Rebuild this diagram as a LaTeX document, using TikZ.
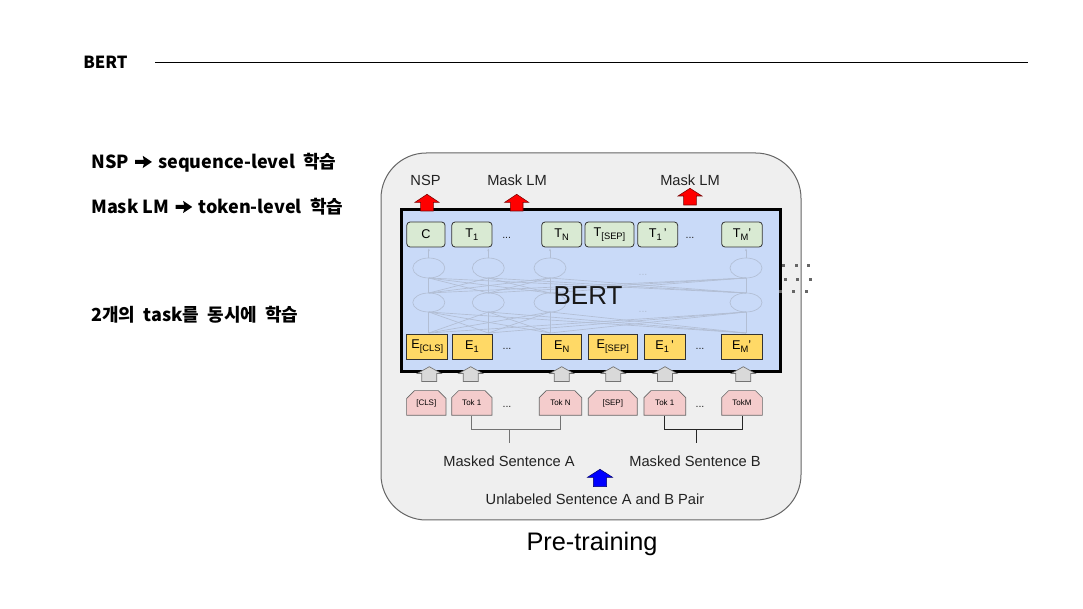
\documentclass[tikz,border=0pt]{standalone}
\usepackage{fontspec}
\setmainfont{Liberation Sans}
\newfontfamily\krfont{Noto Sans CJK KR}
\usetikzlibrary{shapes.misc,arrows.meta}
\definecolor{outerfill}{HTML}{EFEFEF}
\definecolor{outerline}{HTML}{666666}
\definecolor{bertblue}{HTML}{C9DAF8}
\definecolor{tgreen}{HTML}{D9EAD3}
\definecolor{eyellow}{HTML}{FFD966}
\definecolor{tokpink}{HTML}{F4CCCC}
\definecolor{faint}{RGB}{178,190,212}
\definecolor{darkred}{RGB}{120,0,0}
\definecolor{darkblue}{RGB}{0,0,110}
\definecolor{txt}{HTML}{222222}
\newcommand\blkarrow[7]{%
  \draw[#1] (#2,#3) -- ({#2+#6},#4) -- ({#2+#7},#4) -- ({#2+#7},#5) -- ({#2-#7},#5) -- ({#2-#7},#4) -- ({#2-#6},#4) -- cycle;}
\newcommand\lowsub[1]{\raisebox{-2.6pt}{\fontsize{7}{7}\selectfont #1}}
\newcommand\hvyarrow{\hspace{0.12em}\tikz[x=1em,y=1em,baseline=0pt]\fill[black] (0.02,0.27)--(0.5,0.27)--(0.44,0.04)--(0.95,0.38)--(0.44,0.72)--(0.5,0.49)--(0.02,0.49)--cycle;\hspace{0.12em}}
\tikzset{
  lefttext/.style={anchor=west,inner sep=0,font=\krfont\bfseries\fontsize{13.5}{15}\selectfont},
  tbox/.style={draw=black!80,fill=tgreen,rounded corners=2.5pt,minimum height=18.75pt,inner sep=0,line width=0.6pt,font=\fontsize{9.5}{9.5}\selectfont},
  ebox/.style={draw=black!80,fill=eyellow,minimum height=19pt,inner sep=0,line width=0.6pt,font=\fontsize{9.5}{9.5}\selectfont},
  tokbox/.style={chamfered rectangle,chamfered rectangle corners={north east,north west},chamfered rectangle xsep=3pt,chamfered rectangle ysep=3pt,draw=black!60,fill=tokpink,minimum height=18.5pt,inner sep=0,line width=0.5pt,font=\fontsize{6}{6}\selectfont},
  dots/.style={inner sep=0,font=\fontsize{8}{8}\selectfont,text=txt},
  lbl/.style={inner sep=0,font=\fontsize{11}{11}\selectfont,text=txt},
  faintline/.style={draw=faint,line width=0.5pt},
  bracket/.style={draw=black!55,line width=0.6pt}
}
\begin{document}
\begin{tikzpicture}[x=0.75pt,y=-0.75pt]
\useasboundingbox (0,0) rectangle (1083,609);
\fill[white] (0,0) rectangle (1083,609);
% title
\node[anchor=west,inner sep=0,font=\krfont\bfseries\fontsize{12.5}{14}\selectfont] (title) at (83,62) {BERT};
\coordinate (rl) at (155,63);
\coordinate (rr) at (1028,63);
\draw[line width=0.75pt] (rl) -- (rr);
% left texts
\node[lefttext] (l1) at (91,163) {NSP \hvyarrow{} sequence-level \ 학습};
\node[lefttext] (l2) at (91,207) {Mask LM \hvyarrow{} token-level \ 학습};
\node[lefttext] (l3) at (91,315) {2개의 \ task를 \ 동시에 \ 학습};
% outer box
\node[draw=outerline,fill=outerfill,rounded corners=34pt,minimum width=315pt,minimum height=275.25pt,line width=0.75pt] (outer) at (591,336.5) {};
% inner box
\node[draw=black,fill=bertblue,minimum width=284.25pt,minimum height=121.5pt,line width=2.25pt] (bert) at (590.5,291) {};
% faint transformer layers
\foreach \i/\x in {1/428.8,2/488.3,3/550,4/746}{
  \draw[faintline] (\x,268) ellipse (16 and 10);
  \draw[faintline] (\x,302.5) ellipse (16 and 9.5);
  \draw[faintline,-{Stealth[length=2pt]}] (\x,258) -- (\x,248.5);
}
\foreach \x in {428.8,488.3,550,746}{
  \foreach \y in {428.8,488.3,550,746}{
    \draw[faintline] (\x,293) -- (\y,278);
    \draw[faintline] (\x,333) -- (\y,312);
  }
}
\node[dots,text=faint] (fd1) at (643,275) {...};
\node[dots,text=faint] (fd2) at (643,312) {...};
\node[inner sep=0,font=\fontsize{19.5}{20}\selectfont,text=black!90] (bertlbl) at (588,296) {BERT};
% T row
\node[tbox,minimum width=28.7pt] (tc) at (425.9,234.5) {C};
\node[tbox,minimum width=30.2pt] (t1) at (471.9,234.5) {T\lowsub{1}};
\node[dots] (td1) at (506.7,238) {...};
\node[tbox,minimum width=30pt] (tn) at (561.7,234.5) {T\lowsub{N}};
\node[tbox,minimum width=36.75pt] (tsep) at (609.5,234.5) {T\lowsub{[SEP]}};
\node[tbox,minimum width=30pt] (t1b) at (657.7,234.5) {T\lowsub{1}\,'};
\node[dots] (td2) at (690,238) {...};
\node[tbox,minimum width=30.5pt] (tm) at (742,234.5) {T\lowsub{M}'};
% E row
\node[ebox,minimum width=30.75pt] (ecls) at (427.2,346.7) {E\lowsub{[CLS]}};
\node[ebox,minimum width=30pt] (e1) at (472,346.7) {E\lowsub{1}};
\node[dots] (ed1) at (507,349) {...};
\node[ebox,minimum width=30pt] (en) at (561.7,346.7) {E\lowsub{N}};
\node[ebox,minimum width=36.75pt] (esep) at (612.8,346.7) {E\lowsub{[SEP]}};
\node[ebox,minimum width=30.5pt] (e1b) at (664.7,346.7) {E\lowsub{1}\,'};
\node[dots] (ed2) at (700,349) {...};
\node[ebox,minimum width=31pt] (em) at (741.7,346.7) {E\lowsub{M}'};
% red arrows
\blkarrow{fill=red,draw=darkred,line width=0.4pt}{427}{194.3}{202.3}{211}{12}{6.3}
\blkarrow{fill=red,draw=darkred,line width=0.4pt}{516.7}{194.3}{202.3}{211}{12}{6.3}
\blkarrow{fill=red,draw=darkred,line width=0.4pt}{690}{188.3}{196}{205}{12}{6.3}
\node[lbl] (nsp) at (425.5,180) {NSP};
\node[lbl] (mlm1) at (517,180) {Mask LM};
\node[lbl] (mlm2) at (690,180) {Mask LM};
% gray arrows
\foreach \x in {429.3,470.7,561.7,613.3,665,743.3}{
  \blkarrow{fill=black!15,draw=black!55,line width=0.5pt}{\x}{366.7}{373.5}{381.5}{12}{7.5}
}
% tok row
\node[tokbox,minimum width=29.5pt] (tokcls) at (426.3,403) {[CLS]};
\node[tokbox,minimum width=30.2pt] (tokA1) at (471.8,403) {Tok 1};
\node[dots] (kd1) at (507,407) {...};
\node[tokbox,minimum width=31.8pt] (tokAN) at (560.5,403) {Tok N};
\node[tokbox,minimum width=36.75pt] (toksep) at (612.8,403) {[SEP]};
\node[tokbox,minimum width=31.3pt] (tokB1) at (664.8,403) {Tok 1};
\node[dots] (kd2) at (700,407) {...};
\node[tokbox,minimum width=30.5pt] (tokBM) at (742,403) {TokM};
% brackets
\coordinate (brA) at (509.3,429.3);
\coordinate (brAe) at (509.3,443);
\coordinate (brB) at (696,429.3);
\coordinate (brBe) at (696,443);
\draw[bracket] (tokA1.south) |- (brA) -| (tokAN.south);
\draw[bracket] (brA) -- (brAe);
\draw[bracket,draw=black!85] (tokB1.south) |- (brB) -| (tokBM.south);
\draw[bracket,draw=black!85] (brB) -- (brBe);
\node[lbl] (msa) at (509,461) {Masked Sentence A};
\node[lbl] (msb) at (695,461) {Masked Sentence B};
\blkarrow{fill=blue,draw=darkblue,line width=0.4pt}{600}{469.3}{477.3}{486.7}{12.5}{6.7}
\node[lbl] (unl) at (595,499) {Unlabeled Sentence A and B Pair};
\node[inner sep=0,font=\fontsize{19}{20}\selectfont,text=black] (pre) at (592,544) {Pre-training};
% dots at right
\foreach \x/\y in {783.3/265.3,796/265.3,808.7/265.3,785/279.3,797.7/279.3,810.7/279.3,780.7/291.7,793.3/291.7,806.3/291.7}{
  \fill[black!60] (\x-1.5,\y-1.5) rectangle (\x+1.5,\y+1.5);
}
\end{tikzpicture}
\end{document}
